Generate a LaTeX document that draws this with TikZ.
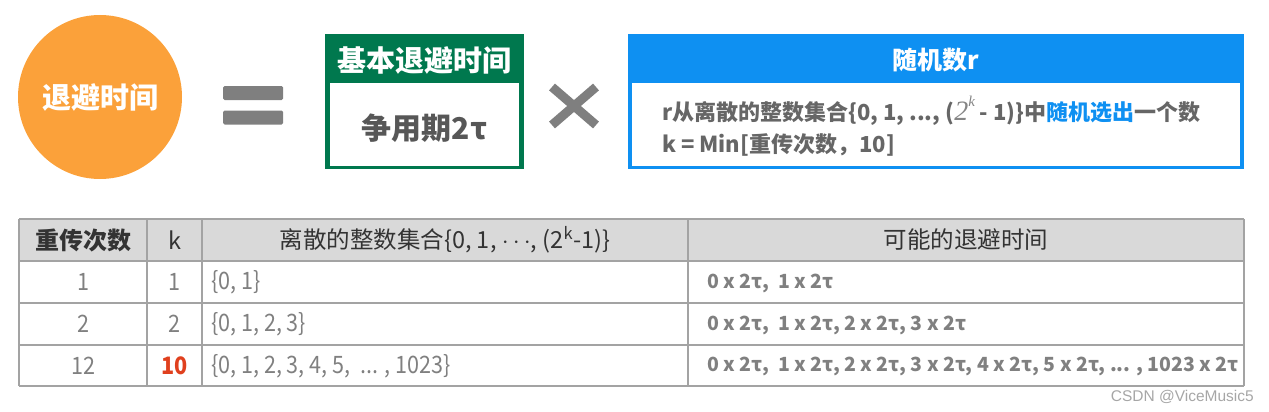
\documentclass[tikz,border=0pt]{standalone}
\usetikzlibrary{shapes.geometric}
\usepackage{fontspec}
\setmainfont{Noto Sans CJK SC}
\newfontfamily\condfont{Noto Sans CJK SC}[FakeStretch=0.9]
\newfontfamily\lserif{Liberation Serif}
\newfontfamily\wmfont{Liberation Sans}
\definecolor{circorange}{HTML}{FBA13A}
\definecolor{symgray}{HTML}{7F7F7F}
\definecolor{boxgreen}{HTML}{00784E}
\definecolor{boxblue}{HTML}{0E90F2}
\definecolor{txtgray}{HTML}{666666}
\definecolor{celltxt}{HTML}{808080}
\definecolor{darktxt}{HTML}{333333}
\definecolor{hdrfill}{HTML}{D9D9D9}
\definecolor{gridgray}{HTML}{A3A3A3}
\definecolor{redtxt}{HTML}{E0401E}
\begin{document}
\begin{tikzpicture}[x=1pt,y=-1pt,
  bodytxt/.style={font=\fontsize{22}{24}\selectfont\bfseries, text=txtgray, inner sep=0},
  thdr/.style={font=\fontsize{23.5}{26}\selectfont, text=darktxt, inner sep=0},
  tcell/.style={font=\condfont\fontsize{24}{26}\selectfont, text=celltxt, inner sep=0},
  tbold/.style={font=\fontsize{19.5}{22}\selectfont\bfseries, text=celltxt, inner sep=0},
  eqbar/.style={fill=symgray, minimum width=60pt, minimum height=14pt, inner sep=0, rounded corners=1.5pt},
  grid/.style={draw=gridgray, line width=1.6pt}]
\useasboundingbox (0,0) rectangle (1269,412);
% circle
\node[circle, fill=circorange, minimum size=164pt, inner sep=0,
  font=\fontsize{29}{31}\selectfont\bfseries, text=white] (circ) at (100,97) {退避时间};
% equals
\node[eqbar] (eqtop) at (253,93) {};
\node[eqbar] (eqbot) at (253,117.5) {};
% green box
\node[fill=boxgreen, minimum width=199pt, minimum height=135pt, inner sep=0] (gbox) at (424.5,101.5) {};
\node[fill=white, minimum width=189pt, minimum height=83pt, inner sep=0] (gbody) at (424.5,124.5) {};
\node[font=\fontsize{29}{31}\selectfont\bfseries, text=white, inner sep=0] (gtitle) at (424.5,60) {基本退避时间};
\node[font=\fontsize{30}{32}\selectfont\bfseries, text=txtgray!85!black, inner sep=0] (gtext) at (424.5,128) {争用期2τ};
% times sign
\draw[symgray, line width=9pt] (552,87) -- (596,125);
\draw[symgray, line width=9pt] (552,125) -- (596,87);
% blue box
\node[fill=boxblue, minimum width=616pt, minimum height=135pt, inner sep=0] (bbox) at (936,101.5) {};
\node[fill=white, minimum width=608pt, minimum height=83pt, inner sep=0] (bbody) at (936,124.5) {};
\node[font=\fontsize{25}{28}\selectfont\bfseries, text=white, inner sep=0] (btitle) at (936,60) {随机数r};
\node[bodytxt, anchor=west] (bline1) at (662,111) {r从离散的整数集合\{0, 1, ..., ({\lserif\itshape\mdseries\fontsize{28}{30}\selectfont\color{txtgray!80}2\raisebox{1.1ex}{\fontsize{15}{15}\selectfont k}} - 1)\}中\textcolor{boxblue}{随机选出}一个数};
\node[bodytxt, anchor=west] (bline2) at (662,145) {k = Min[重传次数，10]};
% table
\fill[hdrfill] (19,219) rectangle (1244,261);
\foreach \yy in {219,261,303,345,386} \draw[grid] (19,\yy) -- (1244,\yy);
\foreach \xx in {19,147,202,688,1244} \draw[grid] (\xx,219) -- (\xx,386);
\node[thdr, font=\fontsize{24}{26}\selectfont\bfseries] (h1) at (83,240) {重传次数};
\node[thdr] (h2) at (174.5,240) {k};
\node[thdr] (h3) at (445,240) {离散的整数集合\{0, 1, $\cdots$, (2\textsuperscript{k}-1)\}};
\node[thdr] (h4) at (966,240) {可能的退避时间};
\node[tcell] (r1c1) at (83,282) {1};
\node[tcell] (r1c2) at (174.5,282) {1};
\node[tcell, anchor=west] (r1c3) at (211,282) {\{0, 1\}};
\node[tbold, anchor=west] (r1c4) at (707,283) {0 x 2τ,\ \ 1 x 2τ};
\node[tcell] (r2c1) at (83,324) {2};
\node[tcell] (r2c2) at (174.5,324) {2};
\node[tcell, anchor=west] (r2c3) at (211,324) {\{0, 1, 2, 3\}};
\node[tbold, anchor=west] (r2c4) at (707,325) {0 x 2τ,\ \ 1 x 2τ, 2 x 2τ, 3 x 2τ};
\node[tcell] (r3c1) at (83,366) {12};
\node[tcell, text=redtxt, font=\condfont\fontsize{24}{26}\selectfont\bfseries] (r3c2) at (174.5,366) {10};
\node[tcell, anchor=west] (r3c3) at (211,366) {\{0, 1, 2, 3, 4, 5,\ \ ... , 1023\}};
\node[tbold, anchor=west] (r3c4) at (707,366) {0 x 2τ,\ \ 1 x 2τ, 2 x 2τ, 3 x 2τ, 4 x 2τ, 5 x 2τ, ... , 1023 x 2τ};
% watermark
\node[font=\wmfont\fontsize{15.5}{17}\selectfont, text=gray!70, anchor=east, inner sep=0] (wm) at (1254,397) {CSDN @ViceMusic5};
\end{tikzpicture}
\end{document}
